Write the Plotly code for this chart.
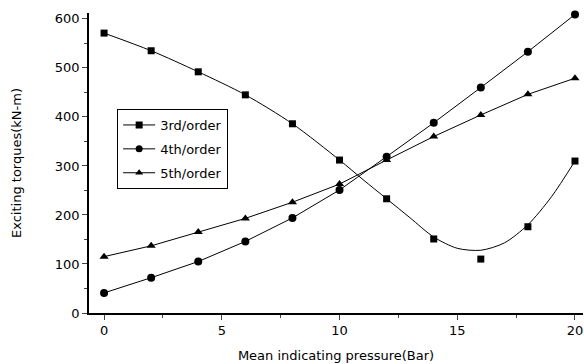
import plotly.graph_objects as go

pressure = [0, 2, 4, 6, 8, 10, 12, 14, 16, 18, 20]
order3 = [571, 535, 492, 445, 386, 312, 233, 151, 110, 176, 310]
order4 = [41, 72, 105, 146, 194, 251, 319, 388, 460, 533, 609]
order5 = [115, 137, 165, 193, 226, 263, 312, 360, 404, 446, 479]

# fitted curve for 3rd order
curve3_x = [0, 2, 4, 6, 8, 10, 11, 12, 13, 14, 15, 16, 17, 18, 19, 20]
curve3_y = [571, 535, 492, 445, 386, 312, 272, 233, 194, 155, 132, 128, 143, 180, 237, 310]

xticks = [0, 5, 10, 15, 20]
yticks = [0, 100, 200, 300, 400, 500, 600]

FONT = "DejaVu Sans, Arial, sans-serif"
fig = go.Figure()

fig.add_trace(go.Scatter(x=curve3_x, y=curve3_y, mode="lines",
                         line=dict(color="black", width=1, shape="spline", smoothing=0.8),
                         showlegend=False, hoverinfo="skip"))
fig.add_trace(go.Scatter(x=pressure, y=order3, mode="markers",
                         marker=dict(symbol="square", size=7, color="black"),
                         showlegend=False))
fig.add_trace(go.Scatter(x=pressure, y=order4, mode="lines+markers",
                         line=dict(color="black", width=1),
                         marker=dict(symbol="circle", size=8, color="black"),
                         showlegend=False))
fig.add_trace(go.Scatter(x=pressure, y=order5, mode="lines+markers",
                         line=dict(color="black", width=1),
                         marker=dict(symbol="triangle-up", size=8, color="black"),
                         showlegend=False))

for name, sym in [("3rd/order", "square"), ("4th/order", "circle"), ("5th/order", "triangle-up")]:
    fig.add_trace(go.Scatter(x=[None], y=[None], mode="lines+markers", name=name,
                             legendgroup=name,
                             line=dict(color="black", width=1),
                             marker=dict(symbol=sym, size=7, color="black")))

fig.update_layout(
    width=584, height=364,
    margin=dict(l=89, r=1, t=13, b=51),
    paper_bgcolor="white", plot_bgcolor="white",
    font=dict(family=FONT, size=13, color="black"),
    showlegend=True,
    legend=dict(x=0.057, y=0.68, xanchor="left", yanchor="top",
                bordercolor="black", borderwidth=1, bgcolor="white",
                font=dict(size=13), tracegroupgap=4, itemwidth=32),
    xaxis=dict(range=[-0.64, 20.34], tickvals=xticks, ticks="outside", ticklen=5,
               showline=True, linecolor="black", linewidth=1.5, showgrid=False, zeroline=False,
               minor=dict(tickvals=[2.5, 7.5, 12.5, 17.5], ticks="outside", ticklen=3),
               title=dict(text="Mean indicating pressure(Bar)", font=dict(size=13), standoff=14)),
    yaxis=dict(range=[0, 612], tickvals=yticks, ticks="outside", ticklen=5,
               showline=True, linecolor="black", linewidth=1.5, showgrid=False, zeroline=False,
               minor=dict(tickvals=[50, 150, 250, 350, 450, 550], ticks="outside", ticklen=3),
               title=dict(text="Exciting torques(kN-m)", font=dict(size=13), standoff=30)),
)
for tr in fig.data:
    tr.cliponaxis = False

fig.write_html("out.html")
